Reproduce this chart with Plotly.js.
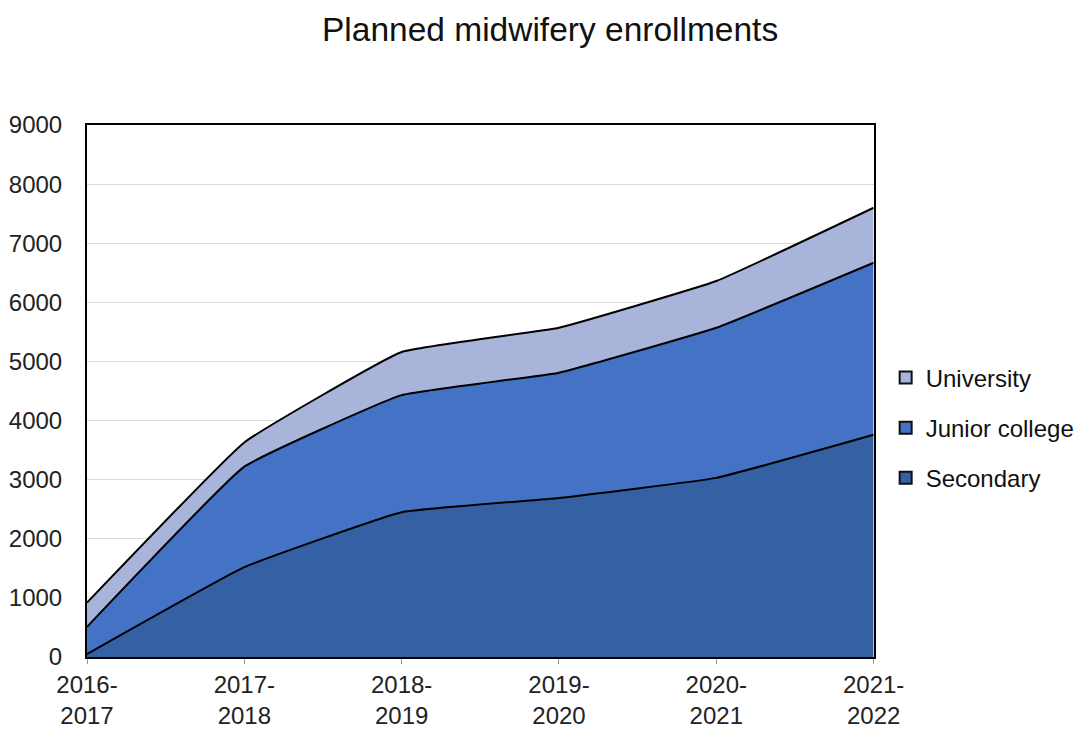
<!DOCTYPE html>
<html>
<head>
<meta charset="utf-8">
<script src="https://cdn.plot.ly/plotly-3.0.1.min.js"></script>
<style>html,body{margin:0;padding:0;background:#fff;}#chart{width:1085px;height:729px;}</style>
</head>
<body>
<div id="chart"></div>
<script>
const years = ["2016-<br>2017","2017-<br>2018","2018-<br>2019","2019-<br>2020","2020-<br>2021","2021-<br>2022"];
const seriesNames = ["Secondary", "Junior college", "University"];
const secondary = [50, 1520, 2450, 2690, 3030, 3760];
const juniorCollege = [460, 1700, 1980, 2120, 2540, 2910];
const university = [410, 410, 730, 760, 790, 930];
const colors = ['#3560A3', '#4472C4', '#A9B4DA'];
const values = [secondary, juniorCollege, university];

const data = [];
values.forEach((v, i) => {
  data.push({x: years, y: v, name: seriesNames[i], type: 'scatter', mode: 'lines', stackgroup: 'one',
    fillcolor: colors[i], line: {color: '#000', width: 2, shape: 'spline', smoothing: 0.3},
    showlegend: false, hoverinfo: 'y+name'});
});
// legend entries (square markers), top to bottom: University, Junior college, Secondary
[2, 1, 0].forEach((i, k) => {
  data.push({x: [years[0]], y: [null], name: seriesNames[i], type: 'scatter', mode: 'markers',
    marker: {symbol: 'square', size: 12, color: colors[i], line: {color: '#111', width: 2}},
    showlegend: true, legendgroup: 'g' + k});
});
const layout = {
  width: 1085, height: 729,
  margin: {l: 87, r: 5, t: 125, b: 72},
  paper_bgcolor: '#fff', plot_bgcolor: '#fff',
  font: {family: 'Liberation Sans, Arial, sans-serif', color: '#222', size: 24},
  title: {text: 'Planned midwifery enrollments', x: 0.507, xref: 'container', xanchor: 'center', y: 0.96, yanchor: 'middle', font: {size: 33.5, color: '#111'}},
  xaxis: {domain: [0, 0.7978], type: 'category', range: [0, 5], showgrid: false, zeroline: false, showline: true, linecolor: '#000', linewidth: 2, mirror: true, ticks: 'outside', ticklen: 5, tickcolor: '#999', tickfont: {size: 24}},
  yaxis: {range: [0, 9000], dtick: 1000, showgrid: true, gridcolor: '#d9d9d9', gridwidth: 1, zeroline: false, showline: true, linecolor: '#000', linewidth: 2, mirror: true, ticks: '', ticklabelstandoff: 18, tickfont: {size: 24}, tickformat: 'd'},
  showlegend: true,
  legend: {x: 0.81, xanchor: 'left', y: 0.567, yanchor: 'top', traceorder: 'grouped', tracegroupgap: 16, itemwidth: 30, font: {size: 24, color: '#111'}}
};
Plotly.newPlot('chart', data, layout, {displayModeBar: false, staticPlot: true});
</script>
</body>
</html>
